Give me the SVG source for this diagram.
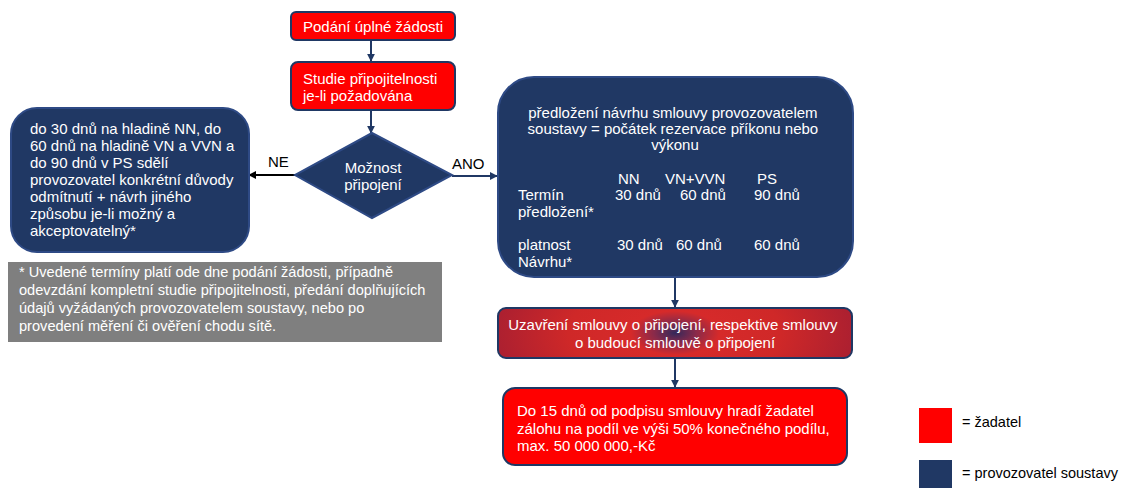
<svg xmlns="http://www.w3.org/2000/svg" width="1121" height="488" viewBox="0 0 1121 488">
<defs>
<style>
text{font-family:"Liberation Sans",Arial,sans-serif;font-size:15px}
.w{fill:#fff}
.k{fill:#000}
.red{fill:#ff0000;stroke:#1f3864;stroke-width:2}
.navy{fill:#203864;stroke:#2e4a85;stroke-width:2}
.c{stroke:#203864;stroke-width:2;fill:none}
.mid{text-anchor:middle}
</style>
<marker id="ah" viewBox="0 0 10 10" refX="9" refY="5" markerWidth="4" markerHeight="4" orient="auto"><path d="M0,0 L10,5 L0,10 z" fill="#203864"/></marker>
<marker id="ahk" viewBox="0 0 10 10" refX="9" refY="5" markerWidth="4" markerHeight="4" orient="auto"><path d="M0,0 L10,5 L0,10 z" fill="#000"/></marker>
<radialGradient id="rg" cx="0.5" cy="0.5" r="0.5" gradientTransform="translate(0.5 0.5) scale(1 3.5) translate(-0.5 -0.5)">
<stop offset="0" stop-color="#34285a"/>
<stop offset="0.12" stop-color="#8a2a4a"/>
<stop offset="0.25" stop-color="#d62a2a"/>
<stop offset="0.6" stop-color="#cf2828"/>
<stop offset="1" stop-color="#ad2030"/>
</radialGradient>
</defs>
<rect width="1121" height="488" fill="#fff"/>
<g id="connectors">
<line class="c" x1="371" y1="40" x2="371" y2="61" marker-end="url(#ah)"/>
<line class="c" x1="371" y1="110" x2="371" y2="133" marker-end="url(#ah)"/>
<line x1="296" y1="175" x2="249" y2="175" stroke="#000" stroke-width="2" marker-end="url(#ahk)"/>
<line class="c" x1="452" y1="176" x2="497" y2="176" marker-end="url(#ah)"/>
<line class="c" x1="675" y1="277" x2="675" y2="307" marker-end="url(#ah)"/>
<line class="c" x1="675" y1="358" x2="675" y2="387" marker-end="url(#ah)"/>
<text x="268" y="167" class="k">NE</text>
<text x="452" y="169" class="k">ANO</text>
</g>
<g id="n1">
<rect class="red" x="291" y="12" width="164" height="28" rx="5"/>
<text x="303" y="32" class="w">Podání úplné žádosti</text>
</g>
<g id="n2">
<rect class="red" x="291" y="62" width="164" height="48" rx="7"/>
<text x="303" y="84" class="w">Studie připojitelnosti</text>
<text x="303" y="101" class="w">je-li požadována</text>
</g>
<g id="n3">
<polygon points="372,133 452,175 372,218 295,175" fill="#203864" stroke="#2e4a85" stroke-width="2"/>
<text x="373" y="173" class="w mid">Možnost</text>
<text x="373" y="190" class="w mid">připojení</text>
</g>
<g id="n4">
<rect class="navy" x="11" y="108" width="238" height="144" rx="26"/>
<text class="w" x="30" y="134">
<tspan x="30" y="134">do 30 dnů na hladině NN, do</tspan>
<tspan x="30" y="151">60 dnů na hladině VN a VVN a</tspan>
<tspan x="30" y="168">do 90 dnů v PS sdělí</tspan>
<tspan x="30" y="185">provozovatel konkrétní důvody</tspan>
<tspan x="30" y="202">odmítnutí + návrh jiného</tspan>
<tspan x="30" y="219">způsobu je-li možný a</tspan>
<tspan x="30" y="236">akceptovatelný*</tspan>
</text>
</g>
<g id="n5">
<rect x="8" y="262" width="434" height="80" fill="#7f7f7f"/>
<text class="w" style="font-size:14.6px">
<tspan x="19" y="277">* Uvedené termíny platí ode dne podání žádosti, případně</tspan>
<tspan x="19" y="295">odevzdání kompletní studie připojitelnosti, předání doplňujících</tspan>
<tspan x="19" y="313">údajů vyžádaných provozovatelem soustavy, nebo po</tspan>
<tspan x="19" y="331">provedení měření či ověření chodu sítě.</tspan>
</text>
</g>
<g id="n6">
<rect class="navy" x="498" y="77" width="355" height="200" rx="36"/>
<text class="w mid">
<tspan x="675" y="118">předložení návrhu smlouvy provozovatelem</tspan>
<tspan x="675" y="134">soustavy = počátek rezervace příkonu nebo</tspan>
<tspan x="675" y="150">výkonu</tspan>
</text>
<text class="w">
<tspan x="618" y="184">NN</tspan>
<tspan x="665" y="184">VN+VVN</tspan>
<tspan x="757" y="184">PS</tspan>
<tspan x="518" y="200">Termín</tspan>
<tspan x="615" y="200">30 dnů</tspan>
<tspan x="680" y="200">60 dnů</tspan>
<tspan x="754" y="200">90 dnů</tspan>
<tspan x="518" y="217">předložení*</tspan>
<tspan x="518" y="250">platnost</tspan>
<tspan x="617" y="250">30 dnů</tspan>
<tspan x="676" y="250">60 dnů</tspan>
<tspan x="754" y="250">60 dnů</tspan>
<tspan x="518" y="267">Návrhu*</tspan>
</text>
</g>
<g id="n7">
<rect x="498" y="308" width="354" height="50" rx="8" fill="url(#rg)" stroke="#1f3864" stroke-width="2"/>
<text class="w mid">
<tspan x="675" y="330">Uzavření smlouvy o připojení, respektive smlouvy</tspan>
<tspan x="675" y="348">o budoucí smlouvě o připojení</tspan>
</text>
</g>
<g id="n8">
<rect class="red" x="503" y="388" width="344" height="77" rx="12"/>
<text class="w">
<tspan x="517" y="416">Do 15 dnů od podpisu smlouvy hradí žadatel</tspan>
<tspan x="517" y="434">zálohu na podíl ve výši 50% konečného podílu,</tspan>
<tspan x="517" y="451">max. 50 000 000,-Kč</tspan>
</text>
</g>
<g id="legend">
<rect x="919" y="408" width="33" height="35" fill="#ff0000"/>
<text x="962" y="427" class="k" style="font-size:14.5px">= žadatel</text>
<rect x="919" y="460" width="33" height="30" fill="#203864"/>
<text x="962" y="478" class="k" style="font-size:14.5px">= provozovatel soustavy</text>
</g>
</svg>
